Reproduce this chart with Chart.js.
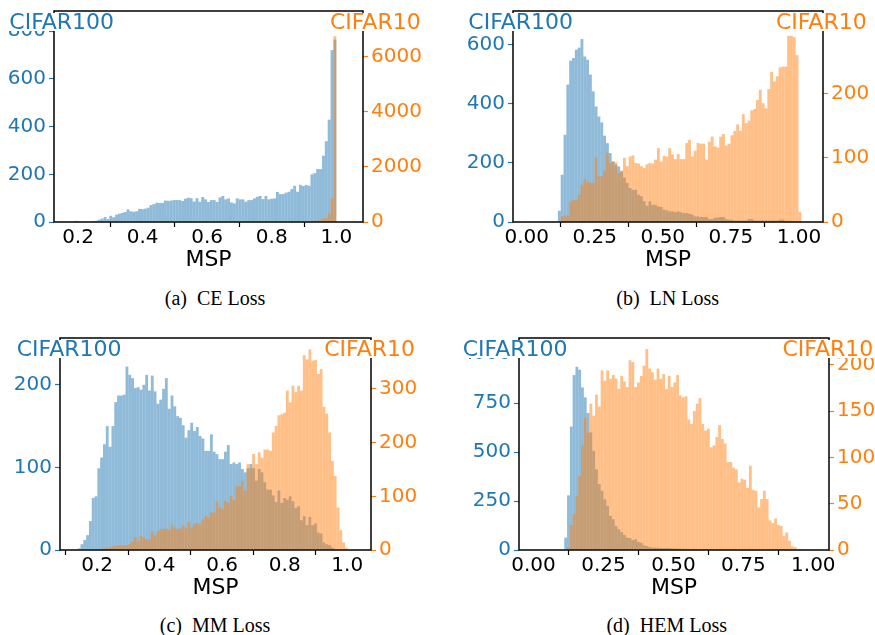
<!DOCTYPE html>
<html>
<head>
<meta charset="utf-8">
<script src="https://cdn.jsdelivr.net/npm/chart.js@4.4.1/dist/chart.umd.min.js"></script>
<style>
  html, body { margin: 0; padding: 0; background: #fff; overflow: hidden; }
  body { position: relative; width: 875px; height: 635px; }
  .panel { position: absolute; }
  .title {
    position: absolute; font-family: 'DejaVu Sans', sans-serif; font-size: 22px;
    line-height: 18.4px; height: 18.4px; background: #fff; white-space: nowrap;
  }
  .blue { color: #1f77b4; }
  .orange { color: #ff7f0e; }
  .caption {
    position: absolute; width: 300px; text-align: center; white-space: nowrap;
    font-family: 'Liberation Serif', 'Times New Roman', serif; font-size: 20px; line-height: 24px;
  }
</style>
</head>
<body>
<div class="panel" style="left:4px; top:-9px; width:421px; height:291px"><canvas id="hist-ce"></canvas></div>
<div class="panel" style="left:463px; top:-9px; width:422px; height:291px"><canvas id="hist-ln"></canvas></div>
<div class="panel" style="left:10px; top:318px; width:423px; height:292px"><canvas id="hist-mm"></canvas></div>
<div class="panel" style="left:469px; top:318px; width:422px; height:292px"><canvas id="hist-hem"></canvas></div>

<div class="title blue" style="left:9.3px; top:12.5px">CIFAR100</div>
<div class="title orange" style="right:454.3px; top:12.5px">CIFAR10</div>
<div class="title blue" style="left:468.3px; top:12.5px">CIFAR100</div>
<div class="title orange" style="right:8.3px; top:12.5px">CIFAR10</div>
<div class="title blue" style="left:16.7px; top:339.7px">CIFAR100</div>
<div class="title orange" style="right:460px; top:339.7px">CIFAR10</div>
<div class="title blue" style="left:462.7px; top:339.7px">CIFAR100</div>
<div class="title orange" style="right:1.7px; top:339.7px">CIFAR10</div>

<div class="caption" style="left:65px; top:286.3px">(a)&ensp;CE Loss</div>
<div class="caption" style="left:517.7px; top:286.3px">(b)&ensp;LN Loss</div>
<div class="caption" style="left:65px; top:613px">(c)&ensp;MM Loss</div>
<div class="caption" style="left:516.7px; top:613px">(d)&ensp;HEM Loss</div>

<script>
// histogram counts, 100 bins per panel
// (a) CE loss
const ceBinStart = 0.11
const ceBinWidth = 0.0089
const ceCifar100 = [
  0, 0, 0, 0, 0, 0, 0, 0, 0, 5,
  3, 0, 0, 0, 2, 4, 5, 10, 14, 21,
  12, 26, 20, 31, 35, 38, 42, 53, 45, 43,
  45, 55, 54, 56, 60, 71, 75, 81, 80, 80,
  90, 89, 90, 92, 92, 92, 88, 98, 102, 100,
  86, 100, 85, 105, 95, 84, 92, 92, 84, 103,
  109, 95, 99, 82, 78, 99, 95, 95, 85, 92,
  92, 99, 106, 109, 96, 109, 95, 98, 99, 126,
  117, 117, 123, 127, 138, 152, 127, 156, 151, 155,
  152, 200, 205, 222, 222, 278, 339, 429, 721, 765,
]
const ceCifar10 = [
  0, 0, 0, 0, 0, 0, 0, 0, 0, 15,
  18, 21, 16, 19, 22, 17, 20, 18, 23, 19,
  17, 22, 20, 18, 24, 19, 21, 17, 22, 20,
  18, 23, 19, 21, 17, 24, 20, 22, 18, 21,
  19, 23, 18, 22, 20, 24, 19, 21, 23, 20,
  22, 18, 24, 21, 19, 23, 20, 22, 25, 21,
  24, 19, 23, 22, 26, 20, 24, 22, 25, 23,
  21, 26, 24, 22, 27, 23, 25, 28, 24, 22,
  25, 21, 24, 23, 26, 22, 24, 25, 24, 24,
  24, 30, 40, 50, 72, 120, 145, 314, 857, 6735,
]
const ceXTicks = [0.2, 0.4, 0.6, 0.8, 1.0]
const ceLeftTicks = [0, 200, 400, 600, 800]
const ceRightTicks = [0, 2000, 4000, 6000]

// (b) LN loss
const lnBinStart = 0
const lnBinWidth = 0.0104
const lnCifar100 = [
  0, 0, 0, 0, 0, 0, 0, 0, 0, 0,
  0, 38, 160, 295, 465, 546, 555, 583, 590, 619,
  560, 549, 499, 442, 391, 357, 337, 292, 267, 233,
  205, 194, 188, 171, 150, 132, 115, 109, 109, 92,
  87, 70, 55, 70, 58, 58, 53, 51, 42, 40,
  36, 36, 33, 36, 33, 30, 30, 28, 25, 19,
  19, 17, 17, 17, 10, 10, 15, 15, 17, 17,
  10, 8, 8, 5, 5, 5, 5, 5, 10, 10,
  5, 5, 5, 5, 5, 5, 5, 5, 5, 8,
  8, 4, 4, 3, 3, 0, 0, 0, 0, 0,
]
const lnCifar10 = [
  1, 1, 1, 1, 1, 1, 1, 1, 1, 1,
  1, 1, 9, 10, 10, 32, 34, 34, 42, 58,
  67, 63, 61, 61, 101, 71, 71, 80, 108, 91,
  94, 93, 76, 80, 100, 87, 102, 104, 92, 91,
  87, 84, 90, 92, 91, 97, 115, 94, 103, 102,
  115, 105, 98, 106, 98, 98, 123, 128, 102, 111,
  123, 122, 122, 97, 125, 133, 118, 116, 133, 137,
  119, 122, 135, 142, 152, 142, 168, 154, 158, 174,
  176, 190, 206, 185, 177, 207, 234, 219, 227, 241,
  242, 242, 290, 290, 288, 260, 16, 0, 0, 0,
]
const lnXTicks = [0, 0.25, 0.5, 0.75, 1.0]
const lnLeftTicks = [0, 200, 400, 600]
const lnRightTicks = [0, 100, 200]

// (c) MM loss
const mmBinStart = 0.12
const mmBinWidth = 0.009
const mmCifar100 = [
  0, 0, 2, 7, 12, 18, 35, 63, 65, 99,
  112, 128, 150, 125, 150, 179, 187, 187, 188, 222,
  212, 208, 196, 197, 194, 200, 212, 193, 211, 192,
  177, 182, 195, 208, 171, 187, 174, 162, 160, 151,
  136, 145, 154, 144, 149, 138, 135, 120, 120, 140,
  119, 116, 110, 110, 119, 127, 104, 106, 104, 106,
  98, 94, 99, 104, 99, 84, 98, 94, 82, 73,
  73, 66, 58, 72, 57, 63, 61, 65, 59, 51,
  53, 36, 41, 30, 40, 30, 32, 21, 20, 9,
  7, 6, 3, 1, 0, 0, 0, 0, 0, 0,
]
const mmCifar10 = [
  0, 0, 0, 0, 0, 0, 0, 0, 0, 0,
  2, 3, 4, 5, 6, 8, 9, 9, 9, 9,
  11, 16, 24, 16, 26, 23, 20, 20, 35, 27,
  35, 39, 39, 40, 37, 47, 42, 39, 40, 45,
  40, 52, 42, 49, 50, 48, 57, 63, 60, 70,
  70, 90, 79, 76, 91, 88, 101, 93, 119, 119,
  129, 110, 160, 152, 179, 160, 182, 172, 187, 187,
  185, 219, 231, 251, 253, 256, 297, 275, 306, 294,
  306, 297, 363, 355, 374, 353, 354, 328, 337, 267,
  254, 219, 166, 138, 79, 37, 14, 4, 0, 0,
]
const mmXTicks = [0.2, 0.4, 0.6, 0.8, 1.0]
const mmLeftTicks = [0, 100, 200]
const mmRightTicks = [0, 100, 200, 300]

// (d) HEM loss
const hemBinStart = 0
const hemBinWidth = 0.01
const hemCifar100 = [
  0, 0, 0, 0, 0, 0, 0, 0, 0, 0,
  0, 63, 279, 630, 893, 935, 920, 830, 779, 699,
  600, 506, 412, 336, 302, 259, 225, 174, 157, 123,
  106, 92, 77, 63, 61, 51, 55, 41, 37, 24,
  20, 15, 12, 12, 12, 10, 10, 10, 10, 8,
  8, 7, 7, 6, 6, 5, 4, 4, 3, 3,
  3, 3, 2, 2, 2, 2, 2, 1, 1, 1,
  1, 1, 0, 0, 0, 0, 0, 0, 0, 0,
  0, 0, 0, 0, 0, 0, 0, 0, 0, 0,
  0, 0, 0, 0, 0, 0, 0, 0, 0, 0,
]
const hemCifar10 = [
  0, 0, 0, 0, 0, 0, 0, 0, 0, 0,
  0, 0, 3, 27, 39, 58, 80, 113, 143, 127,
  158, 145, 168, 155, 194, 183, 194, 185, 189, 185,
  174, 188, 182, 176, 205, 203, 176, 181, 188, 199,
  217, 196, 192, 184, 196, 185, 190, 174, 188, 176,
  181, 189, 167, 165, 166, 141, 136, 150, 158, 164,
  136, 129, 131, 111, 113, 122, 135, 120, 115, 95,
  95, 89, 87, 73, 77, 76, 67, 91, 65, 64,
  46, 55, 64, 55, 32, 29, 34, 27, 26, 15,
  19, 10, 4, 3, 1, 1, 1, 0, 0, 0,
]
const hemXTicks = [0, 0.25, 0.5, 0.75, 1.0]
const hemLeftTicks = [0, 250, 500, 750, 1000]
const hemRightTicks = [0, 50, 100, 150, 200]

const BLUE = '#1f77b4'
const ORANGE = '#ff7f0e'
const FONT = "'DejaVu Sans', sans-serif"
const TICK_SIZE = 20

const framePlugin = {
  id: 'frame',
  afterDatasetsDraw(chart) {
    const { ctx, chartArea: a } = chart
    ctx.save()
    ctx.strokeStyle = '#000'
    ctx.lineWidth = 1.5
    ctx.strokeRect(a.left, a.top, a.right - a.left, a.bottom - a.top)
    ctx.restore()
  },
}

const toPoints = (counts, start, width) =>
  counts.map((y, i) => ({ x: start + width * (i + 0.5), y }))

const fixedTicks = (values) => (scale) => {
  scale.ticks = values.filter((v) => v >= scale.min && v <= scale.max).map((v) => ({ value: v }))
}

const yAxis = (position, color, max, ticks, width) => ({
  type: 'linear',
  position,
  min: 0,
  max,
  afterBuildTicks: fixedTicks(ticks),
  afterFit: (scale) => { scale.width = width },
  border: { display: false },
  grid: { drawOnChartArea: false, drawTicks: true, tickLength: 5, tickColor: color, tickWidth: 1.2 },
  ticks: {
    color,
    padding: 3,
    autoSkip: false,
    font: { family: FONT, size: TICK_SIZE },
    callback: (value) => String(value),
  },
})

const buildHistogram = (canvasId, p) => {
  const ctx = document.getElementById(canvasId)
  if (!ctx) return

  new Chart(ctx, {
    type: 'bar',
    data: {
      datasets: [
        {
          label: 'CIFAR10',
          data: toPoints(p.cifar10, p.binStart, p.binWidth),
          yAxisID: 'y1',
          backgroundColor: 'rgba(255, 127, 14, 0.5)',
          grouped: false,
          barPercentage: 1,
          categoryPercentage: 1,
          inflateAmount: 0,
          borderWidth: 0,
        },
        {
          label: 'CIFAR100',
          data: toPoints(p.cifar100, p.binStart, p.binWidth),
          yAxisID: 'y',
          backgroundColor: 'rgba(31, 119, 180, 0.5)',
          grouped: false,
          barPercentage: 1,
          categoryPercentage: 1,
          inflateAmount: 0,
          borderWidth: 0,
        },
      ],
    },
    options: {
      animation: false,
      responsive: true,
      maintainAspectRatio: false,
      devicePixelRatio: 1,
      layout: { padding: { top: 20, left: 0, right: 0, bottom: 0 } },
      plugins: {
        legend: { display: false },
        tooltip: { enabled: false },
      },
      scales: {
        x: {
          type: 'linear',
          min: p.xMin,
          max: p.xMax,
          offset: false,
          afterBuildTicks: fixedTicks(p.xTicks),
          afterFit: (scale) => { scale.height = 60 },
          border: { display: false },
          grid: { drawOnChartArea: false, drawTicks: true, tickLength: 5, tickColor: '#000', tickWidth: 1.2 },
          ticks: {
            color: '#000',
            padding: 1,
            autoSkip: false,
            maxRotation: 0,
            font: { family: FONT, size: TICK_SIZE, lineHeight: 1 },
            callback: (value) => Number(value).toFixed(p.digits),
          },
          title: {
            display: true,
            text: 'MSP',
            color: '#000',
            font: { family: FONT, size: 22 },
            padding: { top: 2, bottom: 8.8 },
          },
        },
        y: yAxis('left', BLUE, p.leftMax, p.leftTicks, 50),
        y1: yAxis('right', ORANGE, p.rightMax, p.rightTicks, 62),
      },
    },
    plugins: [framePlugin],
  })
}

buildHistogram('hist-ce', {
  binStart: ceBinStart, binWidth: ceBinWidth, cifar100: ceCifar100, cifar10: ceCifar10,
  xMin: 0.1255, xMax: 1.0826, xTicks: ceXTicks, digits: 1,
  leftMax: 885, leftTicks: ceLeftTicks, rightMax: 7645, rightTicks: ceRightTicks,
})

buildHistogram('hist-ln', {
  binStart: lnBinStart, binWidth: lnBinWidth, cifar100: lnCifar100, cifar10: lnCifar10,
  xMin: -0.0505, xMax: 1.0885, xTicks: lnXTicks, digits: 2,
  leftMax: 714, leftTicks: lnLeftTicks, rightMax: 328.7, rightTicks: lnRightTicks,
})

buildHistogram('hist-mm', {
  binStart: mmBinStart, binWidth: mmBinWidth, cifar100: mmCifar100, cifar10: mmCifar10,
  xMin: 0.0814, xMax: 1.076, xTicks: mmXTicks, digits: 1,
  leftMax: 256.6, leftTicks: mmLeftTicks, rightMax: 395, rightTicks: mmRightTicks,
})

buildHistogram('hist-hem', {
  binStart: hemBinStart, binWidth: hemBinWidth, cifar100: hemCifar100, cifar10: hemCifar10,
  xMin: -0.0518, xMax: 1.056, xTicks: hemXTicks, digits: 2,
  leftMax: 1082, leftTicks: hemLeftTicks, rightMax: 229, rightTicks: hemRightTicks,
})
</script>
</body>
</html>
